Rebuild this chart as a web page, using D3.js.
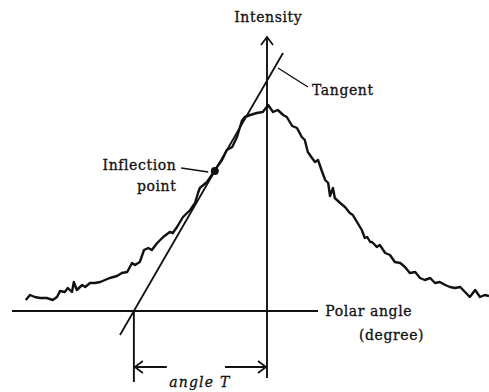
<!DOCTYPE html>
<html>
<head>
<meta charset="utf-8">
<script src="https://cdn.jsdelivr.net/npm/d3@7"></script>
<style>
  body { margin: 0; background: #fff; }
  svg text { font-family: "DejaVu Serif", "Liberation Serif", serif; fill: #111; stroke: #111; stroke-width: 0.3; }
</style>
</head>
<body>
<svg></svg>
<script>
const [WIDTH, HEIGHT] = [489, 392]

// measured trace, polar angle (deg, peak at 0) vs intensity (peak ~ 100)
const angle = [-40.2, -39.5, -38.7, -37.8, -36.7, -35.7, -35, -34.5, -33.7, -33.2, -32.5, -32.2, -31.7, -30.8, -30.3,
    -29.5, -28.7, -27.8, -27, -26.2, -25, -24.2, -23.3, -22.5, -22, -21.2, -20.5, -19.8, -19.2, -18.3, -17.3, -16.2,
    -15.7, -15, -14, -12.8, -12, -11.5, -11.2, -10, -9.2, -8.7, -7.5, -6.7, -5.8, -5, -4.2, -3.7, -2.8, -1.7, -0.7,
    0.2, 1, 1.8, 2.7, 3.3, 4.2, 5, 5.8, 6.3, 6.8, 7.5, 8, 8.5, 9.2, 9.7, 10.2, 10.5, 11, 11.3, 12.2, 13, 13.8, 14.3,
    15, 15.8, 16.3, 16.7, 17.2, 17.5, 18, 18.3, 18.8, 19.7, 20.5, 21.3, 22.2, 23, 23.8, 24.7, 25.5, 26.3, 27.2, 28,
    28.8, 29.7, 30.5, 31.3, 32.2, 33, 33.8, 34.7, 35.5, 36.3, 37]
const intensity = [5.5, 8, 7, 6.5, 6.5, 5.5, 7, 10, 9.5, 11.5, 9.5, 14.5, 10.5, 13, 12,
    14, 14, 14.5, 15.5, 16.5, 17.5, 19, 19.5, 24, 23, 24.5, 30.5, 31.5, 30.5, 34, 37, 39.5,
    39, 42, 47, 50.5, 54, 59, 61.5, 64.5, 68, 70.5, 75.5, 80.5, 82, 87, 95, 97, 98, 99, 99.5,
    103, 99.5, 100.5, 98, 97, 92.5, 91.5, 87, 85.5, 79.5, 76.5, 74.5, 75.5, 69.5, 65.5, 64, 57.5, 61.5, 56.5, 54, 52, 49, 48,
    44.5, 40.5, 36.5, 37, 34.5, 34.5, 33, 32, 33, 29, 28, 24.5, 24, 22, 19, 19.5, 16.5, 15.5, 16.5, 14,
    14.5, 13, 12, 11.5, 12, 9.5, 7, 10.5, 7, 8, 7.5]

// inflection point and slope of the tangent through it
const inflection = { angle: -8.7, intensity: 70 }
const tangentSlope = 5.19

const state = {}

function setupSvg() {
    state['svg'] = d3.select("svg")
        .attr("width", WIDTH)
        .attr("height", HEIGHT)
        .attr("viewBox", "0 0 " + WIDTH + " " + HEIGHT)
}

function arrowHead(g, tip, dir) {
    // open "V" head, dir is the unit vector the arrow points to
    const back = 8, half = 6
    const bx = tip[0] - dir[0] * back, by = tip[1] - dir[1] * back
    const nx = -dir[1] * half, ny = dir[0] * half
    g.append("path")
        .attr("d", d3.line()([[bx + nx, by + ny], tip, [bx - nx, by - ny]]))
        .attr("fill", "none").attr("stroke", "#111").attr("stroke-width", 1.7)
}

function main() {
    setupSvg()
    const svg = state['svg']

    const x = d3.scaleLinear().domain([-44.5, 37]).range([0, WIDTH])
    const y = d3.scaleLinear().domain([0, 100]).range([311, 111])

    const ink = "#111"
    const g = svg.append("g")

    // polar angle axis
    g.append("line")
        .attr("x1", x(-42.5)).attr("x2", x(8.5))
        .attr("y1", y(0)).attr("y2", y(0))
        .attr("stroke", ink).attr("stroke-width", 1.9)

    // intensity axis, runs below the baseline too
    g.append("line")
        .attr("x1", x(0)).attr("x2", x(0))
        .attr("y1", y(-33.5)).attr("y2", y(137))
        .attr("stroke", ink).attr("stroke-width", 1.9)
    arrowHead(g, [x(0), y(137)], [0, -1])

    // the trace
    const pts = angle.map((a, i) => [a, intensity[i]])
    g.append("path")
        .datum(pts)
        .attr("d", d3.line().x(d => x(d[0])).y(d => y(d[1])))
        .attr("fill", "none")
        .attr("stroke", ink)
        .attr("stroke-width", 2.4)
        .attr("stroke-linejoin", "round")

    // tangent through the inflection point
    const a0 = inflection.angle - inflection.intensity / tangentSlope
    const tanAt = I => a0 + I / tangentSlope
    g.append("line")
        .attr("x1", x(tanAt(-12))).attr("y1", y(-12))
        .attr("x2", x(tanAt(129))).attr("y2", y(129))
        .attr("stroke", ink).attr("stroke-width", 1.8)

    g.append("circle")
        .attr("cx", x(inflection.angle)).attr("cy", y(inflection.intensity))
        .attr("r", 4).attr("fill", ink)

    // drop line from the tangent foot
    g.append("line")
        .attr("x1", x(a0)).attr("x2", x(a0))
        .attr("y1", y(0)).attr("y2", y(-35.5))
        .attr("stroke", ink).attr("stroke-width", 1.9)

    // angle T dimension arrows
    const arrowI = -28
    g.append("line")
        .attr("x1", x(a0)).attr("x2", x(-16.7))
        .attr("y1", y(arrowI)).attr("y2", y(arrowI))
        .attr("stroke", ink).attr("stroke-width", 1.9)
    arrowHead(g, [x(a0) + 1, y(arrowI)], [-1, 0])
    g.append("line")
        .attr("x1", x(-7)).attr("x2", x(0))
        .attr("y1", y(arrowI)).attr("y2", y(arrowI))
        .attr("stroke", ink).attr("stroke-width", 1.9)
    arrowHead(g, [x(0) - 1, y(arrowI)], [1, 0])

    // leaders
    g.append("line")
        .attr("x1", x(1.83)).attr("y1", y(121.5))
        .attr("x2", x(6.83)).attr("y2", y(112))
        .attr("stroke", ink).attr("stroke-width", 1.4)
    g.append("line")
        .attr("x1", x(-14.3)).attr("y1", y(71.5))
        .attr("x2", x(-9.8)).attr("y2", y(69.5))
        .attr("stroke", ink).attr("stroke-width", 1.4)

    // labels
    const label = (txt, a, I, anchor, extra) => {
        const t = g.append("text")
            .attr("x", x(a)).attr("y", y(I))
            .attr("text-anchor", anchor)
            .attr("font-size", 14)
            .attr("letter-spacing", 0.6)
            .text(txt)
        if (extra) extra(t)
        return t
    }
    label("Intensity", 0.2, 144.5, "middle")
    label("Tangent", 7.5, 108, "start")
    label("Inflection", -15.1, 70.5, "end")
    label("point", -15.1, 60, "end")
    label("Polar angle", 9.7, -2.5, "start")
    label("(degree)", 26.2, -14.5, "end")
    label("angle T", -11.2, -38, "middle", t => t.attr("font-style", "italic").attr("letter-spacing", 1.2))
}

main()
</script>
</body>
</html>
